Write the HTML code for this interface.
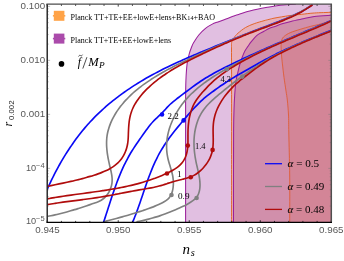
<!DOCTYPE html>
<html><head><meta charset="utf-8"><title>plot</title>
<style>
html,body{margin:0;padding:0;background:#fff;}
body{width:344px;height:261px;position:relative;overflow:hidden;font-family:"Liberation Sans",sans-serif;}
svg{display:block;will-change:transform;}
text{white-space:pre;}
</style></head><body>
<svg width="344" height="261" viewBox="0 0 344 261" style="position:absolute;left:0;top:0">
<defs><clipPath id="c"><rect x="47.10" y="4.10" width="284.20" height="217.90"/></clipPath></defs>
<g clip-path="url(#c)">
<path d="M185.60 222.00C185.60 210.00 185.60 170.33 185.60 150.00C185.60 129.67 185.55 111.55 185.60 100.00C185.65 88.45 185.65 86.72 185.90 80.70C186.15 74.68 186.53 68.40 187.10 63.90C187.67 59.40 188.55 56.52 189.30 53.70C190.05 50.88 190.87 48.85 191.60 47.00C192.33 45.15 192.50 44.60 193.70 42.60C194.90 40.60 196.83 37.38 198.80 35.00C200.77 32.62 203.25 30.12 205.50 28.30C207.75 26.48 210.22 25.17 212.30 24.10C214.38 23.03 215.72 22.75 218.00 21.90C220.28 21.05 223.35 20.00 226.00 19.00C228.65 18.00 231.78 16.67 233.90 15.90C236.02 15.13 235.90 15.25 238.70 14.40C241.50 13.55 245.88 11.98 250.70 10.80C255.52 9.62 263.55 8.08 267.60 7.30C271.65 6.52 271.93 6.52 275.00 6.10C278.07 5.68 282.50 5.15 286.00 4.80C289.50 4.45 294.33 4.13 296.00 4.00L331.30 4.10L331.30 222.00Z" fill="#e1bfe1" stroke="none"/>
<path d="M231.60 222.00C231.60 210.00 231.60 173.67 231.60 150.00C231.60 126.33 231.62 96.67 231.60 80.00C231.58 63.33 231.47 56.37 231.50 50.00C231.53 43.63 231.35 43.90 231.80 41.80C232.25 39.70 233.17 38.83 234.20 37.40C235.23 35.97 236.10 34.85 238.00 33.20C239.90 31.55 242.90 29.08 245.60 27.50C248.30 25.92 251.13 24.83 254.20 23.70C257.27 22.57 261.53 21.42 264.00 20.70C266.47 19.98 267.17 19.85 269.00 19.40C270.83 18.95 271.67 18.62 275.00 18.00C278.33 17.38 284.55 16.32 289.00 15.70C293.45 15.08 297.48 14.75 301.70 14.30C305.92 13.85 309.37 13.33 314.30 13.00C319.23 12.67 328.47 12.42 331.30 12.30L331.30 222.00Z" fill="#e8b0ba" stroke="none"/>
<path d="M233.50 222.00C233.50 213.33 233.48 185.33 233.50 170.00C233.52 154.67 233.52 140.00 233.60 130.00C233.68 120.00 233.82 115.83 234.00 110.00C234.18 104.17 234.37 99.83 234.70 95.00C235.03 90.17 235.47 84.82 236.00 81.00C236.53 77.18 237.27 74.85 237.90 72.10C238.53 69.35 239.07 67.02 239.80 64.50C240.53 61.98 241.43 59.30 242.30 57.00C243.17 54.70 244.08 52.43 245.00 50.70C245.92 48.97 246.75 48.12 247.80 46.60C248.85 45.08 249.67 43.55 251.30 41.60C252.93 39.65 255.48 36.62 257.60 34.90C259.72 33.18 262.10 32.35 264.00 31.30C265.90 30.25 267.17 29.42 269.00 28.60C270.83 27.78 272.67 27.23 275.00 26.40C277.33 25.57 280.35 24.43 283.00 23.60C285.65 22.77 287.78 22.15 290.90 21.40C294.02 20.65 297.80 19.90 301.70 19.10C305.60 18.30 309.37 17.23 314.30 16.60C319.23 15.97 328.47 15.52 331.30 15.30L331.30 222.00Z" fill="#d18fab" stroke="none"/>
<path d="M289.70 222.00C289.70 214.33 289.85 190.83 289.70 176.00C289.55 161.17 289.00 143.17 288.80 133.00C288.60 122.83 288.75 120.50 288.50 115.00C288.25 109.50 287.72 104.00 287.30 100.00C286.88 96.00 286.55 94.77 286.00 91.00C285.45 87.23 284.60 81.92 284.00 77.40C283.40 72.88 282.82 67.63 282.40 63.90C281.98 60.17 281.72 57.82 281.50 55.00C281.28 52.18 281.15 48.92 281.10 47.00C281.05 45.08 281.05 44.78 281.20 43.50C281.35 42.22 281.45 40.53 282.00 39.30C282.55 38.07 283.13 37.20 284.50 36.10C285.87 35.00 287.57 33.83 290.20 32.70C292.83 31.57 296.93 30.35 300.30 29.30C303.67 28.25 307.45 27.17 310.40 26.40C313.35 25.63 315.73 25.27 318.00 24.70C320.27 24.13 321.78 23.63 324.00 23.00C326.22 22.37 330.08 21.25 331.30 20.90L331.30 222.00Z" fill="#d38597" stroke="none"/>
<path d="M185.60 222.00C185.60 210.00 185.60 170.33 185.60 150.00C185.60 129.67 185.55 111.55 185.60 100.00C185.65 88.45 185.65 86.72 185.90 80.70C186.15 74.68 186.53 68.40 187.10 63.90C187.67 59.40 188.55 56.52 189.30 53.70C190.05 50.88 190.87 48.85 191.60 47.00C192.33 45.15 192.50 44.60 193.70 42.60C194.90 40.60 196.83 37.38 198.80 35.00C200.77 32.62 203.25 30.12 205.50 28.30C207.75 26.48 210.22 25.17 212.30 24.10C214.38 23.03 215.72 22.75 218.00 21.90C220.28 21.05 223.35 20.00 226.00 19.00C228.65 18.00 231.78 16.67 233.90 15.90C236.02 15.13 235.90 15.25 238.70 14.40C241.50 13.55 245.88 11.98 250.70 10.80C255.52 9.62 263.55 8.08 267.60 7.30C271.65 6.52 271.93 6.52 275.00 6.10C278.07 5.68 282.50 5.15 286.00 4.80C289.50 4.45 294.33 4.13 296.00 4.00" fill="none" stroke="#9a1f9a" stroke-width="1.05"/>
<path d="M231.60 222.00C231.60 210.00 231.60 173.67 231.60 150.00C231.60 126.33 231.62 96.67 231.60 80.00C231.58 63.33 231.47 56.37 231.50 50.00C231.53 43.63 231.35 43.90 231.80 41.80C232.25 39.70 233.17 38.83 234.20 37.40C235.23 35.97 236.10 34.85 238.00 33.20C239.90 31.55 242.90 29.08 245.60 27.50C248.30 25.92 251.13 24.83 254.20 23.70C257.27 22.57 261.53 21.42 264.00 20.70C266.47 19.98 267.17 19.85 269.00 19.40C270.83 18.95 271.67 18.62 275.00 18.00C278.33 17.38 284.55 16.32 289.00 15.70C293.45 15.08 297.48 14.75 301.70 14.30C305.92 13.85 309.37 13.33 314.30 13.00C319.23 12.67 328.47 12.42 331.30 12.30" fill="none" stroke="#e2652a" stroke-width="1.0"/>
<path d="M233.50 222.00C233.50 213.33 233.48 185.33 233.50 170.00C233.52 154.67 233.52 140.00 233.60 130.00C233.68 120.00 233.82 115.83 234.00 110.00C234.18 104.17 234.37 99.83 234.70 95.00C235.03 90.17 235.47 84.82 236.00 81.00C236.53 77.18 237.27 74.85 237.90 72.10C238.53 69.35 239.07 67.02 239.80 64.50C240.53 61.98 241.43 59.30 242.30 57.00C243.17 54.70 244.08 52.43 245.00 50.70C245.92 48.97 246.75 48.12 247.80 46.60C248.85 45.08 249.67 43.55 251.30 41.60C252.93 39.65 255.48 36.62 257.60 34.90C259.72 33.18 262.10 32.35 264.00 31.30C265.90 30.25 267.17 29.42 269.00 28.60C270.83 27.78 272.67 27.23 275.00 26.40C277.33 25.57 280.35 24.43 283.00 23.60C285.65 22.77 287.78 22.15 290.90 21.40C294.02 20.65 297.80 19.90 301.70 19.10C305.60 18.30 309.37 17.23 314.30 16.60C319.23 15.97 328.47 15.52 331.30 15.30" fill="none" stroke="#9a1f9a" stroke-width="1.05"/>
<path d="M289.70 222.00C289.70 214.33 289.85 190.83 289.70 176.00C289.55 161.17 289.00 143.17 288.80 133.00C288.60 122.83 288.75 120.50 288.50 115.00C288.25 109.50 287.72 104.00 287.30 100.00C286.88 96.00 286.55 94.77 286.00 91.00C285.45 87.23 284.60 81.92 284.00 77.40C283.40 72.88 282.82 67.63 282.40 63.90C281.98 60.17 281.72 57.82 281.50 55.00C281.28 52.18 281.15 48.92 281.10 47.00C281.05 45.08 281.05 44.78 281.20 43.50C281.35 42.22 281.45 40.53 282.00 39.30C282.55 38.07 283.13 37.20 284.50 36.10C285.87 35.00 287.57 33.83 290.20 32.70C292.83 31.57 296.93 30.35 300.30 29.30C303.67 28.25 307.45 27.17 310.40 26.40C313.35 25.63 315.73 25.27 318.00 24.70C320.27 24.13 321.78 23.63 324.00 23.00C326.22 22.37 330.08 21.25 331.30 20.90" fill="none" stroke="#df5a2f" stroke-width="0.85"/>
<path d="M46.87 190.16C47.14 189.55 47.95 187.72 48.50 186.50C49.06 185.28 49.62 184.06 50.19 182.84C50.77 181.63 51.35 180.41 51.94 179.20C52.53 177.98 53.13 176.77 53.74 175.56C54.35 174.35 54.97 173.15 55.60 171.94C56.23 170.74 56.87 169.54 57.52 168.34C58.17 167.15 58.83 165.95 59.49 164.76C60.16 163.57 60.84 162.39 61.52 161.21C62.21 160.03 62.91 158.85 63.61 157.68C64.32 156.51 65.03 155.34 65.76 154.18C66.48 153.02 67.22 151.86 67.96 150.72C68.71 149.57 69.46 148.42 70.23 147.29C70.99 146.15 71.76 145.02 72.55 143.90C73.33 142.77 74.12 141.66 74.93 140.55C75.73 139.44 76.54 138.34 77.37 137.25C78.19 136.16 79.02 135.07 79.86 133.99C80.71 132.92 81.56 131.85 82.42 130.79C83.29 129.73 84.16 128.68 85.04 127.65C85.92 126.61 86.82 125.58 87.72 124.56C88.62 123.54 89.54 122.53 90.46 121.53C91.38 120.53 92.31 119.54 93.26 118.56C94.20 117.58 95.15 116.62 96.12 115.66C97.08 114.70 98.05 113.76 99.03 112.82C100.02 111.88 101.01 110.96 102.01 110.04C103.01 109.13 104.01 108.22 105.03 107.33C106.05 106.43 107.08 105.55 108.11 104.67C109.14 103.80 110.19 102.93 111.24 102.07C112.29 101.22 113.35 100.37 114.41 99.53C115.48 98.70 116.55 97.87 117.64 97.05C118.72 96.23 119.81 95.42 120.90 94.62C122.00 93.82 123.10 93.03 124.21 92.25C125.32 91.46 126.43 90.69 127.56 89.92C128.68 89.16 129.81 88.40 130.94 87.65C132.08 86.90 133.22 86.16 134.36 85.43C135.51 84.70 136.66 83.98 137.82 83.26C138.98 82.55 140.14 81.84 141.31 81.14C142.47 80.44 143.65 79.75 144.82 79.07C146.00 78.38 147.18 77.71 148.37 77.04C149.56 76.37 150.75 75.71 151.94 75.05C153.14 74.40 154.34 73.75 155.54 73.11C156.74 72.47 157.95 71.84 159.16 71.22C160.37 70.59 161.58 69.97 162.80 69.36C164.01 68.75 165.23 68.14 166.46 67.54C167.68 66.94 168.90 66.35 170.13 65.76C171.36 65.18 172.59 64.60 173.82 64.02C175.06 63.44 176.29 62.87 177.53 62.31C178.77 61.74 180.01 61.18 181.25 60.63C182.49 60.07 183.74 59.52 184.98 58.97C186.23 58.42 187.48 57.88 188.72 57.34C189.97 56.80 191.23 56.26 192.48 55.73C193.73 55.19 194.98 54.66 196.24 54.14C197.49 53.61 198.75 53.08 200.01 52.56C201.27 52.04 202.52 51.52 203.78 51.00C205.04 50.48 206.30 49.97 207.56 49.45C208.82 48.94 210.08 48.43 211.35 47.91C212.61 47.40 213.87 46.89 215.13 46.38C216.39 45.87 217.65 45.36 218.92 44.85C220.18 44.34 221.44 43.83 222.70 43.32C223.96 42.81 225.23 42.31 226.49 41.80C227.75 41.29 229.01 40.78 230.28 40.28C231.54 39.77 232.80 39.27 234.07 38.76C235.33 38.26 236.59 37.76 237.86 37.25C239.12 36.75 240.39 36.25 241.65 35.75C242.92 35.25 244.18 34.75 245.45 34.25C246.72 33.76 247.98 33.26 249.25 32.76C250.52 32.27 251.79 31.78 253.05 31.28C254.32 30.79 255.59 30.30 256.86 29.81C258.13 29.32 259.40 28.84 260.68 28.35C261.95 27.86 263.22 27.38 264.49 26.90C265.77 26.42 267.04 25.94 268.32 25.46C269.59 24.98 270.87 24.50 272.14 24.02C273.42 23.54 274.69 23.06 275.96 22.58C277.24 22.09 278.51 21.61 279.78 21.12C281.04 20.62 282.31 20.12 283.57 19.62C284.83 19.11 286.09 18.59 287.34 18.07C288.60 17.54 289.85 17.01 291.09 16.46C292.33 15.91 293.57 15.34 294.79 14.77C296.02 14.19 297.25 13.60 298.46 12.99C299.67 12.38 300.88 11.75 302.07 11.10C303.27 10.45 304.45 9.79 305.63 9.10C306.81 8.41 307.97 7.70 309.13 6.96C310.28 6.22 311.98 5.06 312.55 4.68" fill="none" stroke="#0a0af5" stroke-width="1.65" stroke-linejoin="round"/>
<path d="M103.51 222.45C103.72 221.81 104.36 219.92 104.78 218.64C105.20 217.37 105.62 216.10 106.03 214.82C106.45 213.54 106.86 212.26 107.28 210.97C107.69 209.69 108.10 208.40 108.52 207.11C108.93 205.82 109.35 204.53 109.76 203.24C110.18 201.95 110.60 200.66 111.02 199.37C111.45 198.08 111.87 196.79 112.31 195.50C112.74 194.21 113.17 192.93 113.61 191.64C114.06 190.35 114.50 189.07 114.96 187.79C115.41 186.51 115.87 185.23 116.34 183.96C116.81 182.68 117.29 181.41 117.78 180.14C118.26 178.88 118.76 177.62 119.27 176.36C119.77 175.10 120.29 173.85 120.82 172.61C121.35 171.36 121.89 170.12 122.45 168.89C123.00 167.66 123.57 166.44 124.15 165.22C124.74 164.00 125.33 162.80 125.95 161.60C126.56 160.40 127.18 159.21 127.83 158.03C128.47 156.84 129.14 155.67 129.81 154.51C130.49 153.35 131.19 152.20 131.90 151.06C132.61 149.91 133.33 148.78 134.07 147.65C134.80 146.52 135.55 145.40 136.30 144.28C137.06 143.16 137.82 142.04 138.59 140.93C139.36 139.82 140.14 138.71 140.92 137.61C141.70 136.50 142.48 135.39 143.27 134.29C144.05 133.18 144.83 132.07 145.62 130.97C146.41 129.87 147.20 128.76 148.02 127.68C148.83 126.60 149.66 125.53 150.51 124.49C151.37 123.45 152.24 122.43 153.16 121.45C154.07 120.47 155.04 119.54 156.00 118.61C156.97 117.68 157.98 116.80 158.96 115.88C159.94 114.95 160.92 114.04 161.87 113.08C162.82 112.12 163.73 111.12 164.65 110.13C165.56 109.14 166.45 108.11 167.38 107.13C168.31 106.15 169.24 105.18 170.23 104.26C171.21 103.34 172.23 102.47 173.27 101.61C174.31 100.76 175.38 99.94 176.45 99.12C177.51 98.29 178.59 97.47 179.66 96.65C180.73 95.83 181.80 95.01 182.88 94.19C183.95 93.37 185.03 92.55 186.11 91.73C187.19 90.92 188.27 90.11 189.36 89.30C190.44 88.50 191.53 87.70 192.63 86.90C193.72 86.11 194.82 85.32 195.92 84.54C197.03 83.77 198.14 82.99 199.25 82.23C200.37 81.47 201.49 80.72 202.62 79.98C203.75 79.24 204.88 78.51 206.03 77.80C207.17 77.08 208.33 76.38 209.49 75.69C210.65 75.01 211.82 74.33 213.00 73.67C214.18 73.01 215.36 72.37 216.56 71.73C217.75 71.10 218.95 70.48 220.15 69.86C221.36 69.24 222.56 68.63 223.77 68.03C224.98 67.42 226.19 66.82 227.40 66.22C228.62 65.62 229.83 65.03 231.05 64.44C232.26 63.85 233.48 63.26 234.70 62.68C235.92 62.10 237.14 61.52 238.36 60.94C239.59 60.36 240.81 59.79 242.04 59.22C243.26 58.65 244.49 58.08 245.71 57.51C246.94 56.95 248.17 56.38 249.40 55.82C250.63 55.26 251.86 54.70 253.09 54.15C254.33 53.59 255.56 53.04 256.79 52.48C258.03 51.93 259.26 51.38 260.50 50.84C261.73 50.29 262.97 49.74 264.21 49.20C265.44 48.65 266.68 48.11 267.92 47.57C269.16 47.03 270.40 46.49 271.64 45.95C272.88 45.41 274.12 44.87 275.36 44.34C276.60 43.80 277.84 43.27 279.09 42.74C280.33 42.20 281.57 41.67 282.81 41.14C284.06 40.61 285.30 40.08 286.54 39.54C287.79 39.01 289.03 38.49 290.28 37.96C291.52 37.43 292.76 36.90 294.01 36.37C295.25 35.84 296.50 35.31 297.74 34.79C298.99 34.26 300.23 33.73 301.48 33.20C302.72 32.68 303.97 32.15 305.21 31.62C306.46 31.09 307.70 30.56 308.95 30.04C310.19 29.51 311.43 28.98 312.68 28.45C313.92 27.92 315.17 27.39 316.41 26.86C317.65 26.33 318.89 25.80 320.14 25.27C321.38 24.73 322.62 24.20 323.86 23.67C325.11 23.13 326.35 22.60 327.59 22.06C328.83 21.52 330.69 20.72 331.31 20.45" fill="none" stroke="#0a0af5" stroke-width="1.65" stroke-linejoin="round"/>
<path d="M132.51 222.48C132.77 221.86 133.56 219.99 134.07 218.74C134.57 217.48 135.07 216.22 135.55 214.95C136.04 213.69 136.51 212.41 136.98 211.14C137.45 209.86 137.91 208.58 138.37 207.29C138.83 206.01 139.28 204.72 139.72 203.43C140.17 202.14 140.61 200.85 141.05 199.55C141.50 198.26 141.93 196.96 142.37 195.66C142.81 194.37 143.25 193.07 143.69 191.77C144.13 190.48 144.57 189.18 145.01 187.88C145.46 186.59 145.90 185.29 146.36 184.00C146.81 182.71 147.27 181.42 147.73 180.14C148.20 178.85 148.67 177.57 149.15 176.29C149.63 175.01 150.12 173.74 150.62 172.47C151.12 171.20 151.62 169.94 152.15 168.68C152.67 167.42 153.20 166.17 153.75 164.93C154.30 163.69 154.86 162.45 155.44 161.22C156.01 159.99 156.61 158.77 157.22 157.56C157.83 156.35 158.46 155.15 159.10 153.96C159.75 152.77 160.42 151.59 161.11 150.42C161.79 149.25 162.50 148.09 163.23 146.94C163.95 145.79 164.70 144.65 165.46 143.52C166.21 142.39 166.99 141.27 167.78 140.15C168.57 139.04 169.37 137.93 170.18 136.83C171.00 135.73 171.83 134.64 172.66 133.56C173.50 132.47 174.34 131.39 175.19 130.32C176.05 129.25 176.91 128.18 177.77 127.12C178.64 126.06 179.51 125.00 180.39 123.94C181.26 122.89 182.14 121.84 183.02 120.79C183.90 119.75 184.78 118.70 185.67 117.66C186.55 116.63 187.44 115.59 188.33 114.56C189.22 113.54 190.12 112.51 191.03 111.50C191.93 110.49 192.85 109.49 193.77 108.49C194.70 107.50 195.63 106.52 196.58 105.55C197.52 104.58 198.48 103.62 199.46 102.68C200.43 101.74 201.42 100.81 202.43 99.90C203.43 98.99 204.46 98.09 205.50 97.22C206.54 96.34 207.60 95.48 208.67 94.64C209.75 93.79 210.83 92.96 211.93 92.14C213.03 91.32 214.14 90.52 215.25 89.72C216.37 88.93 217.49 88.14 218.62 87.37C219.75 86.59 220.88 85.82 222.02 85.06C223.15 84.30 224.29 83.54 225.42 82.79C226.56 82.04 227.69 81.30 228.83 80.56C229.97 79.83 231.11 79.10 232.26 78.39C233.41 77.68 234.56 76.99 235.72 76.30C236.89 75.62 238.06 74.97 239.23 74.31C240.41 73.65 241.59 73.00 242.77 72.34C243.94 71.67 245.12 71.00 246.29 70.33C247.47 69.65 248.64 68.97 249.82 68.28C250.99 67.60 252.17 66.92 253.35 66.24C254.53 65.56 255.71 64.88 256.89 64.21C258.08 63.54 259.27 62.87 260.46 62.22C261.66 61.56 262.85 60.91 264.05 60.27C265.25 59.63 266.46 58.99 267.67 58.36C268.88 57.73 270.09 57.11 271.30 56.49C272.52 55.87 273.74 55.26 274.96 54.66C276.18 54.05 277.40 53.45 278.63 52.86C279.86 52.27 281.09 51.68 282.32 51.10C283.55 50.51 284.79 49.94 286.02 49.36C287.26 48.79 288.50 48.22 289.74 47.66C290.99 47.10 292.23 46.54 293.48 45.98C294.72 45.43 295.97 44.88 297.22 44.33C298.47 43.79 299.72 43.25 300.98 42.71C302.23 42.17 303.49 41.64 304.74 41.11C306.00 40.58 307.26 40.05 308.52 39.52C309.77 39.00 311.03 38.48 312.30 37.96C313.56 37.44 314.82 36.93 316.08 36.41C317.34 35.90 318.61 35.39 319.87 34.88C321.13 34.37 322.40 33.87 323.66 33.36C324.93 32.86 326.19 32.36 327.45 31.86C328.72 31.35 330.62 30.61 331.25 30.36" fill="none" stroke="#0a0af5" stroke-width="1.65" stroke-linejoin="round"/>
<path d="M47.01 216.51C47.67 216.39 49.66 216.02 50.98 215.75C52.31 215.48 53.63 215.20 54.95 214.90C56.26 214.61 57.58 214.30 58.89 213.98C60.21 213.66 61.52 213.33 62.83 212.99C64.14 212.65 65.44 212.30 66.75 211.93C68.05 211.57 69.35 211.20 70.66 210.82C71.96 210.44 73.26 210.06 74.55 209.66C75.85 209.27 77.14 208.86 78.44 208.45C79.73 208.05 81.02 207.63 82.31 207.21C83.60 206.79 84.89 206.36 86.18 205.93C87.46 205.51 88.75 205.07 90.03 204.63C91.32 204.20 92.61 203.77 93.88 203.31C95.15 202.86 96.44 202.43 97.67 201.91C98.90 201.38 100.12 200.85 101.24 200.18C102.37 199.50 103.46 198.75 104.44 197.87C105.42 196.98 106.32 195.95 107.14 194.85C107.96 193.76 108.70 192.52 109.34 191.27C109.99 190.01 110.56 188.65 110.99 187.32C111.42 185.99 111.74 184.62 111.93 183.28C112.13 181.95 112.17 180.63 112.15 179.31C112.13 178.00 111.98 176.71 111.80 175.41C111.62 174.11 111.35 172.82 111.08 171.52C110.80 170.23 110.47 168.93 110.17 167.62C109.86 166.32 109.54 165.00 109.25 163.68C108.95 162.35 108.66 161.02 108.40 159.68C108.14 158.34 107.89 156.99 107.67 155.64C107.46 154.30 107.26 152.94 107.10 151.59C106.94 150.24 106.81 148.88 106.72 147.53C106.63 146.18 106.57 144.83 106.57 143.49C106.56 142.14 106.60 140.80 106.69 139.46C106.78 138.13 106.93 136.80 107.12 135.48C107.32 134.16 107.58 132.85 107.89 131.55C108.20 130.25 108.56 128.96 108.96 127.69C109.37 126.41 109.83 125.15 110.33 123.89C110.82 122.64 111.37 121.41 111.95 120.18C112.53 118.96 113.15 117.76 113.81 116.57C114.47 115.38 115.16 114.20 115.88 113.05C116.60 111.89 117.36 110.76 118.14 109.64C118.92 108.53 119.73 107.43 120.56 106.35C121.39 105.28 122.25 104.23 123.13 103.19C124.00 102.16 124.90 101.15 125.82 100.15C126.74 99.16 127.68 98.18 128.63 97.23C129.59 96.27 130.57 95.33 131.56 94.41C132.55 93.49 133.56 92.59 134.58 91.71C135.61 90.82 136.65 89.95 137.70 89.10C138.75 88.24 139.82 87.41 140.90 86.59C141.97 85.76 143.07 84.96 144.16 84.17C145.26 83.37 146.38 82.60 147.49 81.83C148.61 81.06 149.74 80.31 150.87 79.57C152.01 78.84 153.15 78.11 154.30 77.39C155.44 76.68 156.60 75.98 157.76 75.28C158.92 74.59 160.09 73.91 161.26 73.24C162.43 72.56 163.61 71.90 164.79 71.25C165.97 70.59 167.16 69.95 168.35 69.31C169.54 68.68 170.73 68.05 171.93 67.42C173.13 66.80 174.34 66.19 175.54 65.58C176.75 64.97 177.96 64.37 179.17 63.77C180.38 63.17 181.60 62.58 182.81 61.99C184.03 61.40 185.25 60.82 186.47 60.24C187.69 59.65 188.92 59.08 190.14 58.50C191.36 57.93 192.59 57.35 193.82 56.78C195.04 56.21 196.27 55.64 197.50 55.07C198.72 54.51 199.95 53.94 201.18 53.38C202.41 52.82 203.64 52.25 204.87 51.70C206.10 51.14 207.34 50.58 208.57 50.03C209.80 49.48 211.04 48.92 212.28 48.38C213.51 47.83 214.75 47.28 215.99 46.74C217.22 46.20 218.46 45.65 219.71 45.12C220.95 44.58 222.19 44.05 223.43 43.51C224.67 42.98 225.92 42.45 227.17 41.93C228.41 41.40 229.66 40.88 230.91 40.36C232.16 39.84 233.41 39.33 234.66 38.81C235.91 38.30 237.16 37.79 238.42 37.29C239.67 36.78 240.93 36.28 242.19 35.78C243.44 35.28 244.70 34.79 245.97 34.30C247.23 33.80 248.49 33.32 249.75 32.83C251.02 32.35 252.28 31.87 253.55 31.40C254.82 30.92 256.09 30.45 257.36 29.98C258.63 29.51 259.90 29.04 261.17 28.57C262.44 28.10 263.71 27.63 264.98 27.16C266.25 26.69 267.52 26.22 268.79 25.75C270.05 25.27 271.32 24.79 272.58 24.31C273.85 23.83 275.11 23.34 276.37 22.85C277.63 22.36 278.88 21.86 280.14 21.35C281.39 20.84 282.64 20.33 283.88 19.81C285.13 19.28 286.37 18.75 287.60 18.21C288.84 17.66 290.07 17.11 291.29 16.54C292.51 15.97 293.73 15.39 294.94 14.80C296.16 14.20 297.36 13.60 298.56 12.97C299.76 12.35 300.95 11.71 302.13 11.05C303.31 10.40 304.49 9.72 305.66 9.03C306.82 8.34 307.98 7.63 309.13 6.90C310.28 6.16 311.97 5.01 312.54 4.64" fill="none" stroke="#808080" stroke-width="1.65" stroke-linejoin="round"/>
<path d="M104.49 221.50C105.15 221.33 107.13 220.83 108.45 220.50C109.77 220.16 111.08 219.82 112.39 219.48C113.70 219.14 115.01 218.80 116.31 218.45C117.62 218.10 118.92 217.75 120.22 217.39C121.52 217.03 122.81 216.67 124.11 216.31C125.41 215.94 126.70 215.57 127.99 215.19C129.28 214.81 130.57 214.43 131.86 214.04C133.15 213.65 134.43 213.26 135.72 212.86C137.01 212.45 138.29 212.05 139.57 211.63C140.86 211.21 142.14 210.79 143.42 210.36C144.70 209.93 145.99 209.49 147.27 209.04C148.55 208.58 149.82 208.12 151.10 207.64C152.37 207.15 153.64 206.66 154.91 206.13C156.17 205.61 157.43 205.07 158.69 204.50C159.94 203.93 161.21 203.35 162.42 202.71C163.64 202.07 164.88 201.42 165.96 200.65C167.04 199.88 168.07 199.04 168.92 198.08C169.76 197.12 170.46 196.03 171.04 194.88C171.62 193.73 172.05 192.48 172.40 191.20C172.76 189.93 172.98 188.58 173.14 187.24C173.31 185.90 173.38 184.53 173.38 183.17C173.38 181.81 173.31 180.44 173.16 179.08C173.02 177.71 172.79 176.35 172.52 175.00C172.24 173.65 171.89 172.31 171.53 170.96C171.16 169.62 170.74 168.29 170.34 166.95C169.94 165.61 169.51 164.28 169.13 162.95C168.75 161.62 168.37 160.28 168.05 158.95C167.74 157.62 167.47 156.28 167.25 154.94C167.04 153.61 166.88 152.27 166.77 150.93C166.66 149.59 166.61 148.26 166.60 146.92C166.59 145.59 166.63 144.26 166.71 142.93C166.79 141.60 166.93 140.27 167.10 138.96C167.28 137.64 167.50 136.32 167.76 135.02C168.02 133.71 168.33 132.41 168.67 131.12C169.01 129.83 169.40 128.54 169.82 127.27C170.24 125.99 170.70 124.73 171.20 123.48C171.69 122.23 172.23 120.98 172.79 119.76C173.35 118.53 173.95 117.31 174.58 116.11C175.21 114.91 175.87 113.73 176.56 112.56C177.25 111.39 177.97 110.23 178.71 109.10C179.46 107.96 180.23 106.84 181.03 105.74C181.83 104.64 182.65 103.56 183.50 102.50C184.34 101.44 185.21 100.40 186.10 99.39C186.98 98.37 187.89 97.37 188.82 96.40C189.75 95.42 190.70 94.47 191.66 93.53C192.63 92.59 193.61 91.68 194.61 90.78C195.61 89.88 196.63 89.00 197.66 88.13C198.69 87.27 199.74 86.42 200.80 85.59C201.86 84.76 202.93 83.94 204.02 83.14C205.10 82.34 206.20 81.55 207.31 80.78C208.42 80.00 209.54 79.24 210.67 78.49C211.80 77.74 212.94 77.01 214.08 76.28C215.23 75.55 216.39 74.84 217.55 74.13C218.71 73.42 219.88 72.73 221.05 72.04C222.22 71.35 223.40 70.67 224.58 70.00C225.76 69.33 226.95 68.67 228.13 68.01C229.32 67.35 230.51 66.70 231.70 66.05C232.90 65.40 234.09 64.76 235.29 64.13C236.48 63.49 237.68 62.86 238.88 62.24C240.08 61.61 241.29 60.99 242.49 60.38C243.70 59.77 244.90 59.16 246.11 58.55C247.32 57.95 248.53 57.35 249.75 56.75C250.96 56.16 252.17 55.57 253.39 54.98C254.60 54.39 255.82 53.81 257.04 53.23C258.26 52.65 259.48 52.08 260.70 51.51C261.93 50.93 263.15 50.37 264.38 49.80C265.60 49.24 266.83 48.68 268.06 48.12C269.29 47.56 270.51 47.00 271.75 46.45C272.98 45.90 274.21 45.35 275.44 44.80C276.67 44.25 277.91 43.71 279.14 43.16C280.38 42.62 281.61 42.08 282.85 41.54C284.09 41.00 285.33 40.46 286.57 39.93C287.80 39.39 289.04 38.86 290.28 38.33C291.53 37.79 292.77 37.26 294.01 36.73C295.25 36.20 296.49 35.67 297.74 35.14C298.98 34.61 300.22 34.08 301.47 33.55C302.71 33.03 303.96 32.50 305.20 31.97C306.44 31.44 307.69 30.92 308.94 30.39C310.18 29.86 311.43 29.33 312.67 28.80C313.92 28.28 315.17 27.75 316.41 27.22C317.66 26.69 318.90 26.16 320.15 25.63C321.40 25.09 322.64 24.56 323.89 24.03C325.13 23.49 326.38 22.96 327.63 22.42C328.87 21.88 330.74 21.08 331.36 20.81" fill="none" stroke="#808080" stroke-width="1.65" stroke-linejoin="round"/>
<path d="M136.44 221.69C137.12 221.56 139.19 221.21 140.55 220.94C141.91 220.67 143.26 220.39 144.60 220.08C145.94 219.78 147.27 219.45 148.60 219.11C149.92 218.77 151.23 218.42 152.54 218.04C153.85 217.67 155.15 217.28 156.44 216.87C157.74 216.47 159.02 216.05 160.31 215.61C161.59 215.18 162.87 214.72 164.15 214.26C165.42 213.80 166.70 213.32 167.97 212.82C169.24 212.33 170.51 211.83 171.77 211.31C173.04 210.79 174.31 210.26 175.58 209.72C176.85 209.18 178.12 208.63 179.38 208.06C180.65 207.49 181.91 206.91 183.16 206.30C184.41 205.69 185.66 205.06 186.88 204.40C188.10 203.73 189.32 203.05 190.48 202.31C191.65 201.57 192.84 200.82 193.87 199.96C194.90 199.10 195.89 198.19 196.66 197.16C197.44 196.12 198.06 194.97 198.55 193.76C199.04 192.55 199.37 191.24 199.61 189.91C199.85 188.58 199.96 187.17 200.00 185.78C200.05 184.39 199.98 182.96 199.88 181.57C199.77 180.17 199.59 178.79 199.38 177.42C199.18 176.04 198.91 174.69 198.63 173.35C198.36 172.00 198.04 170.66 197.74 169.33C197.44 167.99 197.11 166.67 196.81 165.33C196.51 164.00 196.21 162.67 195.94 161.33C195.68 159.99 195.43 158.65 195.21 157.31C194.99 155.96 194.80 154.61 194.63 153.26C194.47 151.91 194.33 150.56 194.23 149.20C194.12 147.84 194.05 146.49 194.01 145.13C193.97 143.77 193.97 142.40 194.00 141.04C194.04 139.68 194.11 138.31 194.22 136.95C194.34 135.58 194.49 134.22 194.69 132.85C194.89 131.49 195.14 130.12 195.43 128.76C195.72 127.41 196.05 126.05 196.44 124.72C196.82 123.39 197.25 122.07 197.74 120.78C198.22 119.49 198.75 118.21 199.33 116.97C199.92 115.73 200.55 114.51 201.24 113.34C201.92 112.17 202.67 111.03 203.46 109.93C204.25 108.83 205.09 107.78 205.97 106.74C206.85 105.71 207.77 104.71 208.72 103.74C209.67 102.76 210.65 101.81 211.65 100.87C212.65 99.94 213.68 99.02 214.71 98.12C215.74 97.21 216.80 96.32 217.85 95.43C218.90 94.54 219.95 93.66 221.01 92.78C222.06 91.90 223.12 91.03 224.19 90.16C225.25 89.29 226.31 88.43 227.38 87.57C228.45 86.71 229.53 85.86 230.60 85.02C231.68 84.17 232.76 83.33 233.84 82.50C234.93 81.66 236.02 80.84 237.11 80.02C238.20 79.20 239.30 78.38 240.40 77.57C241.51 76.76 242.61 75.96 243.73 75.17C244.84 74.37 245.96 73.59 247.08 72.81C248.20 72.03 249.33 71.25 250.46 70.49C251.59 69.72 252.73 68.96 253.87 68.21C255.01 67.46 256.16 66.72 257.31 65.98C258.46 65.24 259.62 64.51 260.78 63.79C261.94 63.07 263.11 62.36 264.28 61.66C265.45 60.95 266.63 60.26 267.81 59.57C268.99 58.88 270.18 58.20 271.37 57.53C272.56 56.86 273.76 56.20 274.96 55.54C276.16 54.89 277.36 54.24 278.58 53.61C279.79 52.97 281.00 52.35 282.22 51.73C283.44 51.11 284.67 50.50 285.90 49.90C287.13 49.30 288.36 48.71 289.60 48.13C290.84 47.55 292.08 46.98 293.33 46.41C294.58 45.85 295.83 45.29 297.09 44.74C298.34 44.19 299.60 43.64 300.86 43.10C302.12 42.57 303.38 42.03 304.64 41.50C305.91 40.97 307.18 40.45 308.44 39.93C309.71 39.41 310.98 38.89 312.25 38.37C313.52 37.86 314.79 37.35 316.06 36.83C317.32 36.32 318.59 35.81 319.86 35.30C321.13 34.79 322.40 34.27 323.67 33.76C324.93 33.25 326.20 32.74 327.46 32.22C328.72 31.71 330.61 30.93 331.24 30.67" fill="none" stroke="#808080" stroke-width="1.65" stroke-linejoin="round"/>
<path d="M46.99 186.52C47.68 186.37 49.73 185.91 51.09 185.62C52.44 185.33 53.79 185.04 55.12 184.76C56.46 184.48 57.79 184.20 59.11 183.92C60.43 183.64 61.74 183.36 63.05 183.08C64.36 182.81 65.66 182.53 66.96 182.25C68.26 181.96 69.56 181.68 70.85 181.39C72.14 181.10 73.43 180.81 74.72 180.50C76.00 180.20 77.29 179.89 78.57 179.58C79.86 179.26 81.14 178.93 82.43 178.59C83.72 178.25 85.00 177.90 86.29 177.54C87.58 177.18 88.87 176.80 90.17 176.41C91.46 176.02 92.76 175.61 94.06 175.19C95.37 174.76 96.68 174.32 97.99 173.86C99.29 173.39 100.60 172.91 101.89 172.39C103.18 171.88 104.46 171.34 105.72 170.76C106.97 170.18 108.21 169.57 109.40 168.91C110.60 168.26 111.77 167.57 112.89 166.82C114.01 166.08 115.09 165.30 116.11 164.46C117.14 163.62 118.11 162.73 119.02 161.78C119.92 160.83 120.77 159.81 121.54 158.75C122.32 157.69 123.02 156.56 123.66 155.40C124.30 154.24 124.87 153.03 125.38 151.79C125.88 150.55 126.32 149.27 126.68 147.97C127.05 146.68 127.35 145.35 127.58 144.01C127.81 142.68 127.96 141.33 128.08 139.97C128.20 138.61 128.24 137.25 128.31 135.88C128.37 134.51 128.39 133.14 128.45 131.77C128.51 130.41 128.56 129.04 128.65 127.68C128.73 126.32 128.83 124.96 128.97 123.62C129.11 122.28 129.27 120.94 129.48 119.62C129.70 118.30 129.95 117.00 130.26 115.71C130.58 114.42 130.95 113.15 131.38 111.90C131.81 110.65 132.31 109.42 132.85 108.22C133.40 107.01 134.00 105.82 134.65 104.65C135.30 103.49 136.00 102.34 136.74 101.21C137.47 100.09 138.26 98.98 139.08 97.90C139.90 96.81 140.76 95.75 141.64 94.70C142.53 93.66 143.45 92.64 144.40 91.63C145.34 90.63 146.31 89.65 147.30 88.69C148.29 87.73 149.30 86.79 150.32 85.87C151.34 84.95 152.38 84.05 153.43 83.17C154.47 82.29 155.53 81.43 156.59 80.59C157.65 79.75 158.72 78.94 159.80 78.13C160.87 77.33 161.96 76.55 163.05 75.78C164.15 75.01 165.25 74.26 166.36 73.52C167.47 72.78 168.58 72.06 169.71 71.34C170.83 70.63 171.97 69.93 173.11 69.24C174.25 68.55 175.40 67.88 176.56 67.21C177.72 66.54 178.89 65.88 180.06 65.23C181.23 64.58 182.42 63.93 183.60 63.30C184.79 62.66 185.99 62.03 187.18 61.41C188.38 60.79 189.59 60.17 190.80 59.56C192.00 58.95 193.22 58.35 194.43 57.75C195.64 57.14 196.86 56.55 198.08 55.96C199.30 55.37 200.52 54.78 201.74 54.19C202.96 53.61 204.19 53.03 205.41 52.45C206.63 51.87 207.85 51.30 209.08 50.72C210.30 50.15 211.53 49.58 212.75 49.02C213.98 48.45 215.20 47.89 216.43 47.33C217.66 46.77 218.89 46.21 220.12 45.66C221.35 45.11 222.58 44.56 223.81 44.01C225.04 43.47 226.27 42.92 227.51 42.39C228.74 41.85 229.98 41.31 231.22 40.78C232.45 40.25 233.69 39.72 234.93 39.20C236.17 38.67 237.42 38.15 238.66 37.64C239.90 37.12 241.15 36.61 242.40 36.10C243.64 35.59 244.89 35.09 246.14 34.59C247.39 34.09 248.65 33.59 249.90 33.10C251.16 32.61 252.41 32.12 253.67 31.63C254.93 31.15 256.20 30.67 257.46 30.19C258.72 29.72 259.99 29.25 261.26 28.78C262.52 28.31 263.79 27.84 265.06 27.37C266.33 26.90 267.60 26.44 268.87 25.97C270.13 25.50 271.40 25.03 272.67 24.55C273.93 24.08 275.20 23.60 276.46 23.12C277.72 22.63 278.98 22.14 280.23 21.64C281.49 21.14 282.74 20.64 283.98 20.12C285.23 19.61 286.47 19.08 287.71 18.54C288.94 18.01 290.17 17.46 291.40 16.89C292.62 16.33 293.84 15.76 295.05 15.16C296.25 14.57 297.46 13.96 298.65 13.34C299.84 12.71 301.03 12.07 302.20 11.41C303.38 10.74 304.54 10.06 305.70 9.36C306.85 8.65 307.99 7.93 309.13 7.18C310.26 6.43 311.93 5.24 312.49 4.86" fill="none" stroke="#b00c0c" stroke-width="1.65" stroke-linejoin="round"/>
<path d="M47.04 198.90C47.70 198.78 49.68 198.41 51.00 198.18C52.32 197.95 53.65 197.72 54.98 197.50C56.31 197.28 57.64 197.07 58.97 196.86C60.30 196.65 61.64 196.45 62.97 196.25C64.31 196.05 65.65 195.86 66.98 195.66C68.32 195.47 69.66 195.28 71.00 195.09C72.35 194.91 73.69 194.72 75.03 194.54C76.37 194.35 77.72 194.17 79.06 193.99C80.41 193.81 81.75 193.63 83.10 193.45C84.44 193.27 85.79 193.09 87.14 192.90C88.48 192.72 89.83 192.54 91.17 192.35C92.52 192.17 93.87 191.98 95.21 191.79C96.56 191.60 97.90 191.40 99.24 191.21C100.59 191.01 101.93 190.81 103.27 190.60C104.62 190.40 105.96 190.19 107.30 189.97C108.64 189.76 109.98 189.54 111.31 189.31C112.65 189.08 113.99 188.85 115.32 188.61C116.65 188.37 117.99 188.12 119.32 187.87C120.65 187.61 121.97 187.35 123.30 187.08C124.62 186.80 125.95 186.52 127.27 186.23C128.59 185.94 129.91 185.64 131.22 185.33C132.54 185.02 133.85 184.70 135.16 184.36C136.47 184.03 137.78 183.69 139.08 183.33C140.38 182.97 141.68 182.60 142.98 182.22C144.27 181.84 145.57 181.45 146.85 181.04C148.14 180.63 149.43 180.20 150.71 179.77C151.99 179.33 153.26 178.87 154.54 178.41C155.81 177.94 157.08 177.45 158.34 176.95C159.60 176.45 160.86 175.93 162.11 175.40C163.37 174.86 164.61 174.31 165.86 173.74C167.10 173.17 168.35 172.59 169.56 171.97C170.78 171.35 172.00 170.72 173.17 170.04C174.33 169.35 175.48 168.64 176.56 167.87C177.64 167.09 178.68 166.28 179.64 165.39C180.60 164.50 181.51 163.56 182.31 162.53C183.11 161.51 183.84 160.40 184.46 159.23C185.08 158.05 185.60 156.78 186.04 155.49C186.48 154.20 186.82 152.85 187.09 151.50C187.36 150.15 187.54 148.78 187.68 147.41C187.82 146.04 187.87 144.66 187.92 143.27C187.97 141.89 187.96 140.50 187.97 139.11C187.97 137.72 187.95 136.33 187.96 134.95C187.96 133.56 187.97 132.18 188.02 130.81C188.06 129.43 188.13 128.07 188.23 126.71C188.33 125.35 188.46 124.01 188.62 122.67C188.79 121.33 188.98 120.01 189.22 118.70C189.46 117.39 189.73 116.09 190.05 114.80C190.37 113.52 190.73 112.25 191.14 111.00C191.55 109.75 192.00 108.52 192.51 107.31C193.02 106.09 193.58 104.90 194.20 103.73C194.82 102.55 195.49 101.40 196.23 100.28C196.96 99.15 197.77 98.04 198.60 96.96C199.44 95.87 200.33 94.81 201.23 93.76C202.12 92.71 203.06 91.68 203.99 90.65C204.91 89.63 205.84 88.62 206.79 87.63C207.73 86.64 208.68 85.65 209.64 84.70C210.61 83.74 211.59 82.81 212.59 81.89C213.59 80.98 214.61 80.08 215.64 79.21C216.67 78.34 217.72 77.49 218.78 76.65C219.84 75.82 220.92 75.00 222.01 74.20C223.09 73.40 224.20 72.62 225.31 71.85C226.42 71.08 227.54 70.33 228.67 69.59C229.80 68.85 230.94 68.12 232.09 67.41C233.23 66.69 234.39 65.99 235.55 65.30C236.71 64.61 237.88 63.93 239.05 63.25C240.22 62.58 241.40 61.92 242.58 61.26C243.76 60.61 244.95 59.96 246.14 59.32C247.33 58.68 248.52 58.05 249.72 57.42C250.92 56.80 252.12 56.18 253.33 55.57C254.53 54.96 255.74 54.36 256.96 53.76C258.17 53.17 259.38 52.57 260.60 51.99C261.82 51.40 263.04 50.83 264.27 50.25C265.49 49.68 266.72 49.11 267.95 48.54C269.18 47.98 270.42 47.42 271.65 46.86C272.88 46.31 274.12 45.75 275.36 45.21C276.60 44.66 277.84 44.11 279.08 43.57C280.32 43.03 281.56 42.49 282.81 41.95C284.05 41.42 285.30 40.88 286.54 40.35C287.79 39.82 289.04 39.29 290.29 38.76C291.53 38.23 292.78 37.70 294.03 37.18C295.28 36.65 296.53 36.12 297.78 35.60C299.03 35.07 300.27 34.54 301.52 34.02C302.77 33.49 304.02 32.97 305.27 32.44C306.51 31.91 307.76 31.38 309.00 30.85C310.25 30.32 311.49 29.79 312.74 29.26C313.98 28.73 315.22 28.19 316.46 27.65C317.70 27.12 318.94 26.58 320.18 26.03C321.42 25.49 322.65 24.94 323.88 24.40C325.11 23.85 326.35 23.29 327.57 22.73C328.80 22.18 330.64 21.33 331.25 21.05" fill="none" stroke="#b00c0c" stroke-width="1.65" stroke-linejoin="round"/>
<path d="M47.00 204.70C47.67 204.58 49.67 204.23 51.00 204.01C52.33 203.79 53.67 203.57 55.01 203.36C56.35 203.15 57.68 202.95 59.02 202.76C60.36 202.56 61.70 202.37 63.04 202.19C64.38 202.00 65.73 201.82 67.07 201.64C68.41 201.46 69.75 201.28 71.09 201.11C72.44 200.93 73.78 200.76 75.12 200.59C76.47 200.42 77.81 200.24 79.15 200.07C80.50 199.90 81.84 199.73 83.18 199.55C84.52 199.38 85.87 199.20 87.21 199.02C88.55 198.84 89.89 198.66 91.23 198.47C92.57 198.28 93.91 198.09 95.25 197.89C96.59 197.69 97.92 197.49 99.26 197.28C100.60 197.07 101.93 196.85 103.27 196.63C104.60 196.40 105.93 196.17 107.26 195.93C108.60 195.69 109.93 195.45 111.25 195.20C112.58 194.95 113.91 194.69 115.24 194.43C116.57 194.18 117.90 193.92 119.23 193.66C120.56 193.40 121.88 193.13 123.21 192.87C124.54 192.61 125.87 192.35 127.20 192.10C128.53 191.84 129.86 191.59 131.19 191.34C132.52 191.09 133.85 190.85 135.19 190.61C136.52 190.37 137.86 190.14 139.19 189.92C140.53 189.69 141.87 189.47 143.20 189.25C144.54 189.02 145.88 188.80 147.21 188.56C148.54 188.32 149.87 188.08 151.20 187.82C152.53 187.56 153.85 187.29 155.17 186.99C156.49 186.69 157.80 186.38 159.11 186.03C160.41 185.69 161.71 185.31 163.01 184.92C164.30 184.53 165.59 184.10 166.88 183.69C168.17 183.28 169.45 182.84 170.74 182.44C172.04 182.03 173.33 181.62 174.63 181.25C175.93 180.88 177.24 180.53 178.55 180.21C179.86 179.89 181.19 179.61 182.50 179.30C183.81 178.99 185.13 178.70 186.41 178.33C187.70 177.96 188.98 177.57 190.22 177.08C191.47 176.60 192.69 176.04 193.87 175.39C195.05 174.75 196.20 174.00 197.31 173.21C198.41 172.41 199.49 171.52 200.51 170.60C201.52 169.68 202.50 168.70 203.42 167.68C204.34 166.67 205.22 165.61 206.03 164.52C206.84 163.43 207.59 162.30 208.28 161.14C208.96 159.98 209.59 158.79 210.13 157.57C210.68 156.36 211.16 155.11 211.56 153.84C211.95 152.58 212.27 151.29 212.51 149.98C212.76 148.68 212.91 147.35 213.03 146.01C213.15 144.68 213.19 143.32 213.22 141.96C213.25 140.60 213.23 139.23 213.22 137.86C213.20 136.48 213.15 135.10 213.13 133.73C213.12 132.35 213.08 130.97 213.10 129.60C213.12 128.23 213.14 126.85 213.24 125.50C213.33 124.14 213.46 122.79 213.66 121.45C213.86 120.11 214.12 118.79 214.43 117.48C214.74 116.17 215.11 114.87 215.52 113.59C215.94 112.32 216.41 111.05 216.92 109.81C217.44 108.56 218.00 107.33 218.61 106.13C219.22 104.92 219.87 103.74 220.57 102.57C221.26 101.40 221.99 100.26 222.75 99.13C223.52 98.01 224.32 96.90 225.14 95.82C225.96 94.74 226.82 93.67 227.69 92.63C228.56 91.59 229.46 90.57 230.37 89.58C231.28 88.58 232.21 87.60 233.16 86.65C234.11 85.71 235.07 84.78 236.07 83.88C237.06 82.99 238.09 82.13 239.12 81.27C240.15 80.42 241.21 79.60 242.27 78.76C243.32 77.93 244.38 77.10 245.45 76.27C246.51 75.45 247.58 74.62 248.66 73.80C249.73 72.98 250.81 72.16 251.89 71.34C252.98 70.53 254.07 69.73 255.16 68.93C256.26 68.13 257.36 67.34 258.47 66.56C259.58 65.78 260.69 65.01 261.82 64.25C262.94 63.49 264.07 62.75 265.21 62.01C266.35 61.28 267.49 60.56 268.65 59.86C269.80 59.15 270.97 58.46 272.14 57.79C273.31 57.11 274.49 56.45 275.67 55.80C276.86 55.14 278.05 54.50 279.24 53.87C280.44 53.24 281.64 52.62 282.85 52.01C284.06 51.40 285.27 50.80 286.48 50.20C287.70 49.61 288.92 49.02 290.14 48.44C291.36 47.85 292.59 47.28 293.81 46.71C295.04 46.14 296.27 45.58 297.51 45.02C298.74 44.47 299.98 43.92 301.22 43.37C302.46 42.82 303.70 42.28 304.94 41.75C306.18 41.21 307.43 40.68 308.68 40.16C309.93 39.63 311.18 39.11 312.43 38.59C313.68 38.08 314.93 37.56 316.19 37.05C317.44 36.54 318.69 36.04 319.95 35.54C321.21 35.03 322.47 34.53 323.72 34.04C324.98 33.54 326.24 33.05 327.50 32.56C328.76 32.06 330.65 31.33 331.28 31.09" fill="none" stroke="#b00c0c" stroke-width="1.65" stroke-linejoin="round"/>
<circle cx="162.00" cy="114.50" r="2.3" fill="#0a0af5"/>
<circle cx="183.60" cy="120.40" r="2.3" fill="#0a0af5"/>
<circle cx="171.50" cy="195.00" r="2.3" fill="#808080"/>
<circle cx="196.60" cy="198.00" r="2.3" fill="#808080"/>
<circle cx="226.80" cy="69.30" r="2.3" fill="#808080"/>
<circle cx="242.30" cy="76.60" r="2.3" fill="#808080"/>
<circle cx="167.00" cy="173.50" r="2.3" fill="#b00c0c"/>
<circle cx="187.80" cy="145.60" r="2.3" fill="#b00c0c"/>
<circle cx="190.70" cy="177.30" r="2.3" fill="#b00c0c"/>
<circle cx="212.60" cy="149.90" r="2.3" fill="#b00c0c"/>
</g>
<line x1="265" y1="163.70" x2="282" y2="163.70" stroke="#0a0af5" stroke-width="1.3"/>
<line x1="265" y1="186.50" x2="282" y2="186.50" stroke="#808080" stroke-width="1.3"/>
<line x1="265" y1="209.40" x2="282" y2="209.40" stroke="#b00c0c" stroke-width="1.3"/>
<rect x="53.8" y="10.8" width="10.6" height="10" fill="#ffa347"/>
<line x1="52.9" y1="15.8" x2="65.3" y2="15.8" stroke="#ffa347" stroke-width="1.6"/>
<rect x="53.8" y="33.6" width="10.6" height="10" fill="#ab4bab"/>
<line x1="52.9" y1="38.6" x2="65.3" y2="38.6" stroke="#ab4bab" stroke-width="1.6"/>
<circle cx="61.5" cy="63.9" r="2.8" fill="#000"/>
<g stroke="#111" stroke-width="0.8"><line x1="47.20" y1="222.35" x2="47.20" y2="220.20"/><line x1="47.20" y1="4.10" x2="47.20" y2="6.60"/><line x1="61.41" y1="222.35" x2="61.41" y2="220.90"/><line x1="61.41" y1="4.10" x2="61.41" y2="5.90"/><line x1="75.61" y1="222.35" x2="75.61" y2="220.90"/><line x1="75.61" y1="4.10" x2="75.61" y2="5.90"/><line x1="89.82" y1="222.35" x2="89.82" y2="220.90"/><line x1="89.82" y1="4.10" x2="89.82" y2="5.90"/><line x1="104.02" y1="222.35" x2="104.02" y2="220.90"/><line x1="104.02" y1="4.10" x2="104.02" y2="5.90"/><line x1="118.23" y1="222.35" x2="118.23" y2="220.20"/><line x1="118.23" y1="4.10" x2="118.23" y2="6.60"/><line x1="132.43" y1="222.35" x2="132.43" y2="220.90"/><line x1="132.43" y1="4.10" x2="132.43" y2="5.90"/><line x1="146.64" y1="222.35" x2="146.64" y2="220.90"/><line x1="146.64" y1="4.10" x2="146.64" y2="5.90"/><line x1="160.84" y1="222.35" x2="160.84" y2="220.90"/><line x1="160.84" y1="4.10" x2="160.84" y2="5.90"/><line x1="175.05" y1="222.35" x2="175.05" y2="220.90"/><line x1="175.05" y1="4.10" x2="175.05" y2="5.90"/><line x1="189.25" y1="222.35" x2="189.25" y2="220.20"/><line x1="189.25" y1="4.10" x2="189.25" y2="6.60"/><line x1="203.46" y1="222.35" x2="203.46" y2="220.90"/><line x1="203.46" y1="4.10" x2="203.46" y2="5.90"/><line x1="217.66" y1="222.35" x2="217.66" y2="220.90"/><line x1="217.66" y1="4.10" x2="217.66" y2="5.90"/><line x1="231.87" y1="222.35" x2="231.87" y2="220.90"/><line x1="231.87" y1="4.10" x2="231.87" y2="5.90"/><line x1="246.07" y1="222.35" x2="246.07" y2="220.90"/><line x1="246.07" y1="4.10" x2="246.07" y2="5.90"/><line x1="260.28" y1="222.35" x2="260.28" y2="220.20"/><line x1="260.28" y1="4.10" x2="260.28" y2="6.60"/><line x1="274.48" y1="222.35" x2="274.48" y2="220.90"/><line x1="274.48" y1="4.10" x2="274.48" y2="5.90"/><line x1="288.69" y1="222.35" x2="288.69" y2="220.90"/><line x1="288.69" y1="4.10" x2="288.69" y2="5.90"/><line x1="302.89" y1="222.35" x2="302.89" y2="220.90"/><line x1="302.89" y1="4.10" x2="302.89" y2="5.90"/><line x1="317.10" y1="222.35" x2="317.10" y2="220.90"/><line x1="317.10" y1="4.10" x2="317.10" y2="5.90"/><line x1="331.30" y1="222.35" x2="331.30" y2="220.20"/><line x1="331.30" y1="4.10" x2="331.30" y2="6.60"/></g>
<g stroke="#777" stroke-width="0.5"><line x1="47.10" y1="206.09" x2="48.70" y2="206.09"/><line x1="331.30" y1="206.09" x2="329.70" y2="206.09"/><line x1="47.10" y1="196.59" x2="48.70" y2="196.59"/><line x1="331.30" y1="196.59" x2="329.70" y2="196.59"/><line x1="47.10" y1="189.84" x2="48.70" y2="189.84"/><line x1="331.30" y1="189.84" x2="329.70" y2="189.84"/><line x1="47.10" y1="184.61" x2="48.70" y2="184.61"/><line x1="331.30" y1="184.61" x2="329.70" y2="184.61"/><line x1="47.10" y1="180.33" x2="48.70" y2="180.33"/><line x1="331.30" y1="180.33" x2="329.70" y2="180.33"/><line x1="47.10" y1="176.71" x2="48.70" y2="176.71"/><line x1="331.30" y1="176.71" x2="329.70" y2="176.71"/><line x1="47.10" y1="173.58" x2="48.70" y2="173.58"/><line x1="331.30" y1="173.58" x2="329.70" y2="173.58"/><line x1="47.10" y1="170.82" x2="48.70" y2="170.82"/><line x1="331.30" y1="170.82" x2="329.70" y2="170.82"/><line x1="47.10" y1="168.35" x2="50.10" y2="168.35"/><line x1="331.30" y1="168.35" x2="328.30" y2="168.35"/><line x1="47.10" y1="152.09" x2="48.70" y2="152.09"/><line x1="331.30" y1="152.09" x2="329.70" y2="152.09"/><line x1="47.10" y1="142.59" x2="48.70" y2="142.59"/><line x1="331.30" y1="142.59" x2="329.70" y2="142.59"/><line x1="47.10" y1="135.84" x2="48.70" y2="135.84"/><line x1="331.30" y1="135.84" x2="329.70" y2="135.84"/><line x1="47.10" y1="130.61" x2="48.70" y2="130.61"/><line x1="331.30" y1="130.61" x2="329.70" y2="130.61"/><line x1="47.10" y1="126.33" x2="48.70" y2="126.33"/><line x1="331.30" y1="126.33" x2="329.70" y2="126.33"/><line x1="47.10" y1="122.71" x2="48.70" y2="122.71"/><line x1="331.30" y1="122.71" x2="329.70" y2="122.71"/><line x1="47.10" y1="119.58" x2="48.70" y2="119.58"/><line x1="331.30" y1="119.58" x2="329.70" y2="119.58"/><line x1="47.10" y1="116.82" x2="48.70" y2="116.82"/><line x1="331.30" y1="116.82" x2="329.70" y2="116.82"/><line x1="47.10" y1="114.35" x2="50.10" y2="114.35"/><line x1="331.30" y1="114.35" x2="328.30" y2="114.35"/><line x1="47.10" y1="98.09" x2="48.70" y2="98.09"/><line x1="331.30" y1="98.09" x2="329.70" y2="98.09"/><line x1="47.10" y1="88.59" x2="48.70" y2="88.59"/><line x1="331.30" y1="88.59" x2="329.70" y2="88.59"/><line x1="47.10" y1="81.84" x2="48.70" y2="81.84"/><line x1="331.30" y1="81.84" x2="329.70" y2="81.84"/><line x1="47.10" y1="76.61" x2="48.70" y2="76.61"/><line x1="331.30" y1="76.61" x2="329.70" y2="76.61"/><line x1="47.10" y1="72.33" x2="48.70" y2="72.33"/><line x1="331.30" y1="72.33" x2="329.70" y2="72.33"/><line x1="47.10" y1="68.71" x2="48.70" y2="68.71"/><line x1="331.30" y1="68.71" x2="329.70" y2="68.71"/><line x1="47.10" y1="65.58" x2="48.70" y2="65.58"/><line x1="331.30" y1="65.58" x2="329.70" y2="65.58"/><line x1="47.10" y1="62.82" x2="48.70" y2="62.82"/><line x1="331.30" y1="62.82" x2="329.70" y2="62.82"/><line x1="47.10" y1="60.35" x2="50.10" y2="60.35"/><line x1="331.30" y1="60.35" x2="328.30" y2="60.35"/><line x1="47.10" y1="44.09" x2="48.70" y2="44.09"/><line x1="331.30" y1="44.09" x2="329.70" y2="44.09"/><line x1="47.10" y1="34.59" x2="48.70" y2="34.59"/><line x1="331.30" y1="34.59" x2="329.70" y2="34.59"/><line x1="47.10" y1="27.84" x2="48.70" y2="27.84"/><line x1="331.30" y1="27.84" x2="329.70" y2="27.84"/><line x1="47.10" y1="22.61" x2="48.70" y2="22.61"/><line x1="331.30" y1="22.61" x2="329.70" y2="22.61"/><line x1="47.10" y1="18.33" x2="48.70" y2="18.33"/><line x1="331.30" y1="18.33" x2="329.70" y2="18.33"/><line x1="47.10" y1="14.71" x2="48.70" y2="14.71"/><line x1="331.30" y1="14.71" x2="329.70" y2="14.71"/><line x1="47.10" y1="11.58" x2="48.70" y2="11.58"/><line x1="331.30" y1="11.58" x2="329.70" y2="11.58"/><line x1="47.10" y1="8.82" x2="48.70" y2="8.82"/><line x1="331.30" y1="8.82" x2="329.70" y2="8.82"/><line x1="47.10" y1="6.35" x2="50.10" y2="6.35"/><line x1="331.30" y1="6.35" x2="328.30" y2="6.35"/></g>
<line x1="46.40" y1="4.10" x2="332.00" y2="4.10" stroke="#4d4d4d" stroke-width="1.3"/>
<line x1="47.10" y1="4.10" x2="47.10" y2="222.00" stroke="#555" stroke-width="1.5"/>
<line x1="47.50" y1="4.60" x2="47.50" y2="222.00" stroke="#222" stroke-width="0.8"/>
<line x1="331.30" y1="4.10" x2="331.30" y2="222.00" stroke="#505050" stroke-width="1.5"/>
<line x1="46.40" y1="222.35" x2="332.00" y2="222.35" stroke="#000" stroke-width="1.3"/>
</svg>
<svg width="344" height="261" viewBox="0 0 344 261" style="position:absolute;left:0;top:0"><text x="35.25" y="232.80" font-size="9.00" font-family="'Liberation Sans',sans-serif" fill="#585858" text-anchor="start" textLength="24.50" lengthAdjust="spacingAndGlyphs" >0.945</text>
<text x="105.98" y="232.80" font-size="9.00" font-family="'Liberation Sans',sans-serif" fill="#585858" text-anchor="start" textLength="24.50" lengthAdjust="spacingAndGlyphs" >0.950</text>
<text x="177.01" y="232.80" font-size="9.00" font-family="'Liberation Sans',sans-serif" fill="#585858" text-anchor="start" textLength="24.50" lengthAdjust="spacingAndGlyphs" >0.955</text>
<text x="248.04" y="232.80" font-size="9.00" font-family="'Liberation Sans',sans-serif" fill="#585858" text-anchor="start" textLength="24.50" lengthAdjust="spacingAndGlyphs" >0.960</text>
<text x="319.07" y="232.80" font-size="9.00" font-family="'Liberation Sans',sans-serif" fill="#585858" text-anchor="start" textLength="24.50" lengthAdjust="spacingAndGlyphs" >0.965</text>
<text x="20.60" y="8.80" font-size="9.00" font-family="'Liberation Sans',sans-serif" fill="#585858" text-anchor="start" textLength="24.50" lengthAdjust="spacingAndGlyphs" >0.100</text>
<text x="20.60" y="62.75" font-size="9.00" font-family="'Liberation Sans',sans-serif" fill="#585858" text-anchor="start" textLength="24.50" lengthAdjust="spacingAndGlyphs" >0.010</text>
<text x="20.60" y="117.20" font-size="9.00" font-family="'Liberation Sans',sans-serif" fill="#585858" text-anchor="start" textLength="24.50" lengthAdjust="spacingAndGlyphs" >0.001</text>
<text x="26.00" y="171.00" font-size="9.00" font-family="'Liberation Sans',sans-serif" fill="#585858" text-anchor="start" textLength="10.20" lengthAdjust="spacingAndGlyphs" >10</text>
<text x="36.10" y="167.90" font-size="6.70" font-family="'Liberation Sans',sans-serif" fill="#585858" text-anchor="start" textLength="8.60" lengthAdjust="spacingAndGlyphs" >&#8722;4</text>
<text x="26.00" y="224.30" font-size="9.00" font-family="'Liberation Sans',sans-serif" fill="#585858" text-anchor="start" textLength="10.20" lengthAdjust="spacingAndGlyphs" >10</text>
<text x="36.10" y="221.20" font-size="6.70" font-family="'Liberation Sans',sans-serif" fill="#585858" text-anchor="start" textLength="8.60" lengthAdjust="spacingAndGlyphs" >&#8722;5</text>
<text x="70.50" y="19.90" font-size="7.30" font-family="'Liberation Serif',serif" fill="#000" text-anchor="start" textLength="144.50" lengthAdjust="spacingAndGlyphs" >Planck TT+TE+EE+lowE+lens+BK<tspan font-size="5.7">14</tspan>+BAO</text>
<text x="70.50" y="42.50" font-size="7.30" font-family="'Liberation Serif',serif" fill="#000" text-anchor="start" textLength="100.50" lengthAdjust="spacingAndGlyphs" >Planck TT+TE+EE+lowE+lens</text>
<text x="77.70" y="65.70" font-size="11.80" font-family="'Liberation Serif',serif" fill="#000" text-anchor="start" font-style="italic">f</text>
<path d="M78.7 56.2 C79.3 55.0 80.1 55.1 80.6 55.6 C81.1 56.1 81.8 56.2 82.4 55.0" fill="none" stroke="#111" stroke-width="0.7" stroke-linecap="round"/>
<line x1="82.8" y1="68.6" x2="86.9" y2="57.2" stroke="#111" stroke-width="0.75"/>
<g transform="translate(88.3,65.8) scale(0.98,1)">
<text x="0.00" y="0.00" font-size="12.80" font-family="'Liberation Serif',serif" fill="#000" text-anchor="start" font-style="italic">M</text>
</g>
<g transform="translate(98.9,67.7) scale(1.03,1)">
<text x="0.00" y="0.00" font-size="9.00" font-family="'Liberation Serif',serif" fill="#000" text-anchor="start" font-style="italic">P</text>
</g>
<text x="287.50" y="167.30" font-size="10.20" font-family="'Liberation Serif',serif" fill="#000" text-anchor="start" textLength="31.70" lengthAdjust="spacingAndGlyphs" ><tspan font-style="italic">&#945;</tspan> = 0.5</text>
<text x="287.50" y="190.10" font-size="10.20" font-family="'Liberation Serif',serif" fill="#000" text-anchor="start" textLength="36.80" lengthAdjust="spacingAndGlyphs" ><tspan font-style="italic">&#945;</tspan> = 0.49</text>
<text x="287.50" y="213.00" font-size="10.20" font-family="'Liberation Serif',serif" fill="#000" text-anchor="start" textLength="36.80" lengthAdjust="spacingAndGlyphs" ><tspan font-style="italic">&#945;</tspan> = 0.48</text>
<text x="178.00" y="198.70" font-size="9.20" font-family="'Liberation Serif',serif" fill="#000" text-anchor="start" textLength="11.50" lengthAdjust="spacingAndGlyphs" >0.9</text>
<text x="177.00" y="176.80" font-size="9.20" font-family="'Liberation Serif',serif" fill="#000" text-anchor="start" >1</text>
<text x="195.00" y="148.90" font-size="9.20" font-family="'Liberation Serif',serif" fill="#000" text-anchor="start" textLength="10.50" lengthAdjust="spacingAndGlyphs" >1.4</text>
<text x="167.60" y="118.60" font-size="9.20" font-family="'Liberation Serif',serif" fill="#000" text-anchor="start" textLength="11.30" lengthAdjust="spacingAndGlyphs" >2.2</text>
<text x="220.40" y="82.30" font-size="9.20" font-family="'Liberation Serif',serif" fill="#000" text-anchor="start" textLength="10.50" lengthAdjust="spacingAndGlyphs" >4.3</text>
<text x="182.40" y="253.60" font-size="15.00" font-family="'Liberation Serif',serif" fill="#000" text-anchor="start" font-style="italic">n</text>
<text x="190.80" y="256.00" font-size="10.30" font-family="'Liberation Serif',serif" fill="#000" text-anchor="start" font-style="italic">s</text>
<g transform="translate(11.6,126.6) rotate(-90)">
<text x="0.00" y="0.00" font-size="12.00" font-family="'Liberation Serif',serif" fill="#000" text-anchor="start" font-style="italic">r</text>
<text x="6.60" y="2.70" font-size="7.60" font-family="'Liberation Sans',sans-serif" fill="#222" text-anchor="start" textLength="19.60" lengthAdjust="spacingAndGlyphs" >0.002</text>
</g></svg>
</body></html>
